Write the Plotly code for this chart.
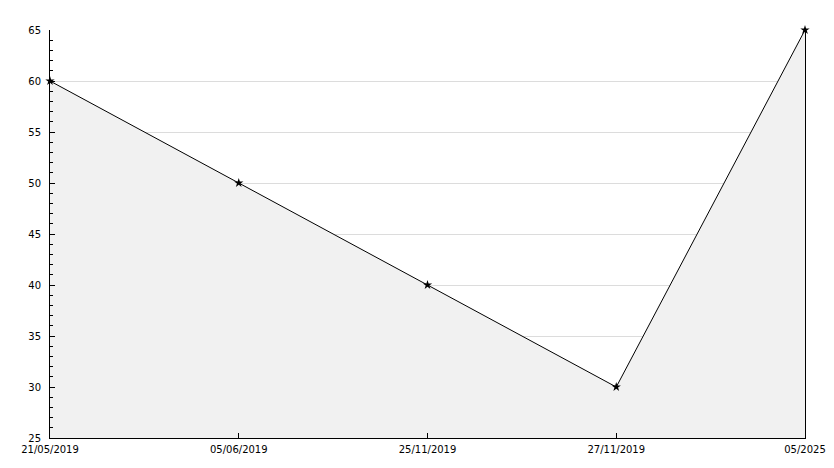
import plotly.graph_objects as go

categories = ["21/05/2019", "05/06/2019", "25/11/2019", "27/11/2019", "05/2025"]
values = [60, 50, 40, 30, 65]
y_ticks = [25, 30, 35, 40, 45, 50, 55, 60, 65]

xpos = list(range(len(categories)))

fig = go.Figure()
fig.add_trace(go.Scatter(
    x=xpos, y=values, mode="lines+markers",
    line=dict(color="black", width=1),
    marker=dict(symbol="star", size=7, color="black"),
    fill="tozeroy", fillcolor="#f1f1f1",
    hoverinfo="skip", cliponaxis=False,
))

# page body has an 8px default margin, so the figure is shrunk to fit the window
fig.update_layout(
    width=826, height=460,
    margin=dict(l=42, r=29, t=22, b=30, autoexpand=False),
    plot_bgcolor="white", paper_bgcolor="white",
    showlegend=False,
    font=dict(family="DejaVu Sans", size=10, color="black"),
    xaxis=dict(
        range=[0, len(categories) - 1],
        tickvals=xpos, ticktext=categories,
        ticks="inside", ticklen=5, tickcolor="black",
        showline=True, linecolor="black", linewidth=1,
        showgrid=False, zeroline=False, automargin=False,
        ticklabelstandoff=2,
    ),
    yaxis=dict(
        range=[25, 65],
        tickvals=y_ticks,
        ticks="inside", ticklen=5, tickcolor="black",
        showline=True, linecolor="black", linewidth=1, mirror=True,
        showgrid=True, gridcolor="#dcdcdc", gridwidth=1,
        zeroline=False, automargin=False,
        ticklabelstandoff=6,
        minor=dict(dtick=1, ticks="inside", ticklen=3, tickcolor="black", showgrid=False),
    ),
)

fig.write_html("out.html")
